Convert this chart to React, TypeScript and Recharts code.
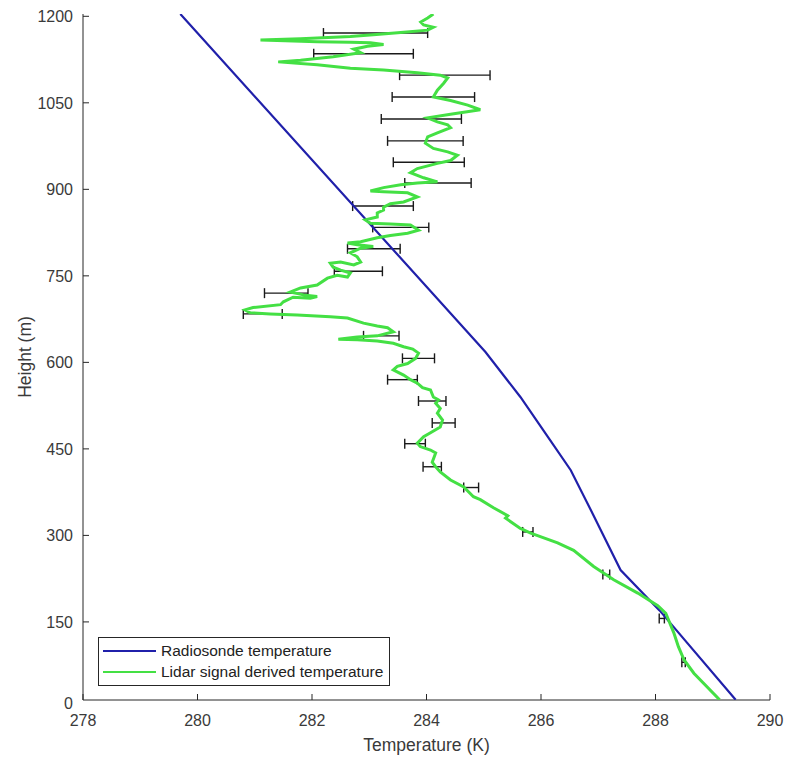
import { ScatterChart, Scatter, XAxis, YAxis, ErrorBar, Legend } from 'recharts'

// radiosonde profile
const radioHeight = [15, 170, 240, 344, 413, 471, 540, 618, 1204]
const radioTemp = [289.4, 288.07, 287.39, 286.87, 286.52, 286.12, 285.64, 285.03, 279.7]

// lidar derived profile (bottom to top)
const lidarHeight = [
  15, 61, 84, 107, 131, 165, 178, 200, 223, 246, 274, 287, 304, 312, 330, 334, 348, 362, 367, 384,
  396, 410, 419, 427, 443, 448, 454, 460, 471, 478, 488, 500, 512, 520, 529, 535, 540, 552, 556, 564,
  570, 578, 587, 593, 598, 607, 616, 623, 627, 633, 637, 639, 640, 644, 646, 653, 660, 663, 668, 677,
  679, 682, 684, 686, 691, 695, 700, 705, 713, 711, 714, 717, 722, 729, 734, 746, 751, 748, 755, 760,
  765, 772, 774, 769, 774, 783, 790, 798, 801, 804, 807, 809, 816, 820, 824, 829, 838, 840, 841, 847,
  852, 859, 864, 869, 875, 878, 887, 894, 896, 897, 903, 908, 911, 913, 920, 929, 936, 945, 950, 959,
  965, 971, 980, 991, 998, 1007, 1012, 1017, 1024, 1030, 1038, 1046, 1054, 1060, 1072, 1084, 1093, 1098, 1102, 1107,
  1110, 1116, 1121, 1124, 1130, 1137, 1143, 1148, 1151, 1154, 1155, 1156, 1158, 1159, 1161, 1165, 1168, 1172, 1176, 1181,
  1185, 1190, 1197, 1204,
]
const lidarTemp = [
  289.12, 288.67, 288.5, 288.4, 288.32, 288.18, 288.04, 287.69, 287.27, 286.92, 286.57, 286.29, 285.82, 285.64, 285.38, 285.42, 285.17, 284.94, 284.82, 284.65,
  284.42, 284.24, 284.16, 284.1, 284.16, 284.07, 283.89, 283.84, 283.95, 284.07, 284.24, 284.28, 284.19, 284.24, 284.16, 284.21, 284.12, 284.07, 283.93, 283.84,
  283.72, 283.6, 283.42, 283.49, 283.67, 283.81, 283.86, 283.76, 283.6, 283.42, 283.14, 282.79, 282.46, 282.79, 283.14, 283.42, 283.32, 283.14, 282.9, 282.62,
  282.32, 281.74, 281.27, 280.92, 280.83, 280.97, 281.45, 281.5, 281.67, 281.97, 282.09, 281.85, 281.62, 281.8, 282.09, 282.27, 282.44, 282.62, 282.67, 282.5,
  282.37, 282.32, 282.5, 282.73, 282.85, 282.79, 282.67, 282.85, 283.07, 282.79, 282.62, 282.85, 283.14, 283.37, 283.67, 283.86, 283.72, 283.37, 283.02, 282.93,
  283.14, 283.14, 283.25, 283.25, 283.37, 283.6, 283.84, 283.67, 283.25, 283.02, 283.25, 283.55, 283.84, 284.19, 283.95, 283.72, 283.84, 284.19, 284.42, 284.54,
  284.37, 284.12, 283.98, 284.02, 284.19, 284.42, 284.37, 284.19, 284.02, 284.42, 284.94, 284.72, 284.42, 284.12, 284.19, 284.3, 284.37, 284.24, 283.84, 283.25,
  282.67, 282.09, 281.41, 281.8, 282.37, 282.85, 282.73, 282.97, 283.25, 283.02, 282.67, 282.09, 281.39, 281.1, 281.8, 282.67, 283.07, 283.55, 284.02, 284.12,
  283.95, 283.9, 284.02, 284.12,
]

// error bars: height, centre temperature, half width
const errHeight = [80, 156, 232, 306, 383, 419, 459, 495, 533, 570, 607, 646, 684, 720, 758, 797, 834, 871, 911, 947, 984, 1022, 1060, 1098, 1135, 1171]
const errTemp = [288.49, 288.11, 287.14, 285.77, 284.78, 284.1, 283.8, 284.3, 284.1, 283.58, 283.86, 283.21, 281.14, 281.55, 282.81, 283.08, 283.55, 283.24, 284.2, 284.04, 283.98, 283.91, 284.12, 284.32, 282.9, 283.11]
const errHalf = [0.03, 0.045, 0.06, 0.09, 0.13, 0.16, 0.18, 0.2, 0.24, 0.26, 0.28, 0.31, 0.34, 0.38, 0.42, 0.46, 0.49, 0.53, 0.58, 0.62, 0.66, 0.7, 0.72, 0.79, 0.87, 0.91]

const xTicks = [278, 280, 282, 284, 286, 288, 290]
const yTicks = [0, 150, 300, 450, 600, 750, 900, 1050, 1200]
const yDomain = [14.6, 1204]

const seriesNames = ['Radiosonde temperature', 'Lidar signal derived temperature']
const seriesColors = ['#2020aa', '#44e044']

const radio = radioHeight.map((h, i) => ({ t: radioTemp[i], h }))
const lidar = lidarHeight.map((h, i) => ({ t: lidarTemp[i], h }))
const errs = errHeight.map((h, i) => ({ t: errTemp[i], h, e: errHalf[i] }))

const AXIS = '#262626'
const TEXT = '#3a3a3a'
const FONT = '"Liberation Sans", Arial, sans-serif'
const PLOT_BOTTOM = 700

const noShape = () => <g />

function BottomTick(props: any) {
  const { x, y, payload } = props
  return (
    <g>
      <line x1={x} x2={x} y1={y} y2={y - 6} stroke={AXIS} />
      <text x={x} y={y + 26} textAnchor="middle" fill={TEXT} fontSize={16} fontFamily={FONT}>{payload.value}</text>
    </g>
  )
}

function LeftTick(props: any) {
  const { x, y, payload } = props
  const inside = y <= PLOT_BOTTOM + 0.5
  const ty = Math.min(y, PLOT_BOTTOM + 3)
  return (
    <g>
      {inside && <line x1={x} x2={x + 6} y1={y} y2={y} stroke={AXIS} />}
      <text x={x - 10} y={ty + 6} textAnchor="end" fill={TEXT} fontSize={16} fontFamily={FONT}>{payload.value}</text>
    </g>
  )
}

function TopTick(props: any) {
  const { x, y } = props
  return <line x1={x} x2={x} y1={y} y2={y + 6} stroke={AXIS} />
}

function RightTick(props: any) {
  const { x, y } = props
  if (y > PLOT_BOTTOM + 0.5) return <g />
  return <line x1={x} x2={x - 6} y1={y} y2={y} stroke={AXIS} />
}

function LegendBox() {
  return (
    <div style={{ border: `1px solid ${AXIS}`, background: '#fff', padding: '2px 6px 3px 4px', fontFamily: FONT, fontSize: 15.5, color: '#222' }}>
      {seriesNames.map((n, i) => (
        <div key={n} style={{ display: 'flex', alignItems: 'center', height: 21 }}>
          <span style={{ display: 'inline-block', width: 53, height: 2, background: seriesColors[i], marginRight: 5 }} />
          {n}
        </div>
      ))}
    </div>
  )
}

export default function App() {
  return (
    <div style={{ position: 'absolute', left: 0, top: 0 }}>
      <ScatterChart width={787} height={757} margin={{ top: 14, right: 17, bottom: 17, left: 23 }}>
        <XAxis xAxisId="b" type="number" dataKey="t" domain={[278, 290]} ticks={xTicks} interval={0}
          allowDataOverflow height={40} stroke={AXIS} tickSize={0} tickMargin={0} tick={<BottomTick />}
          label={{ value: 'Temperature (K)', position: 'insideBottom', offset: -11, fill: TEXT, fontSize: 17.5, fontFamily: FONT }} />
        <XAxis xAxisId="top" orientation="top" type="number" domain={[278, 290]} ticks={xTicks} interval={0}
          allowDataOverflow height={0} stroke={AXIS} tickSize={0} tickMargin={0} tick={<TopTick />} />
        <YAxis yAxisId="l" type="number" dataKey="h" domain={yDomain} ticks={yTicks} interval={0}
          allowDataOverflow width={60} stroke={AXIS} tickSize={0} tickMargin={0} tick={<LeftTick />}
          label={{ value: 'Height (m)', angle: -90, position: 'insideLeft', offset: 0, dx: 2, fill: TEXT, fontSize: 17.5, fontFamily: FONT, style: { textAnchor: 'middle' } }} />
        <YAxis yAxisId="r" orientation="right" type="number" domain={yDomain} ticks={yTicks} interval={0}
          allowDataOverflow width={0} stroke={AXIS} tickSize={0} tickMargin={0} tick={<RightTick />} />
        <Scatter name={seriesNames[0]} data={radio} xAxisId="b" yAxisId="l" fill={seriesColors[0]} shape={noShape}
          line={{ stroke: seriesColors[0], strokeWidth: 2.2 }} lineType="joint" isAnimationActive={false} />
        <Scatter name={seriesNames[1]} data={lidar} xAxisId="b" yAxisId="l" fill={seriesColors[1]} shape={noShape}
          line={{ stroke: seriesColors[1], strokeWidth: 3 }} lineType="joint" isAnimationActive={false} />
        <Scatter name="err" data={errs} xAxisId="b" yAxisId="l" shape={noShape} legendType="none" isAnimationActive={false}>
          <ErrorBar dataKey="e" direction="x" width={5} stroke="#1a1a1a" strokeWidth={1.4} isAnimationActive={false} />
        </Scatter>
        <Legend layout="vertical" align="center" verticalAlign="middle" content={<LegendBox />}
          wrapperStyle={{ left: 98, top: 637, width: 'auto' }} />
      </ScatterChart>
    </div>
  )
}
